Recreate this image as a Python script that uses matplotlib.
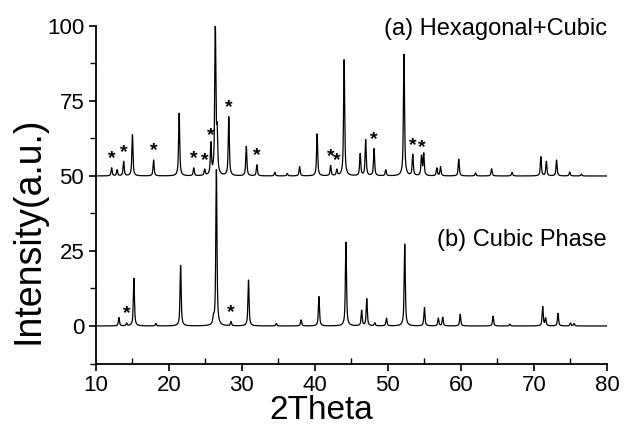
import numpy as np
import matplotlib
matplotlib.use("Agg")
import matplotlib.pyplot as plt
from matplotlib.ticker import MultipleLocator

plt.rcParams['font.family'] = ['Liberation Sans', 'DejaVu Sans']

# (a) Hexagonal+Cubic: peak positions (2theta) and heights (above baseline 50)
a_pos = [12.15, 12.9, 13.8, 15.0, 17.9, 21.4, 23.4, 24.9, 25.75, 26.35, 26.6, 28.2,
         30.6, 32.05, 34.5, 36.2, 37.9, 40.3, 42.15, 43.0, 44.0, 46.2, 46.95, 48.1,
         49.7, 52.2, 53.4, 54.6, 54.9, 56.7, 57.2, 59.7, 62.0, 64.2, 67.0, 70.95,
         71.7, 73.1, 74.9, 76.5]
a_h = [2.7, 2.0, 4.8, 13.7, 5.3, 20.9, 2.6, 2.0, 10.3, 50.0, 13.0, 19.6,
       9.8, 3.7, 1.2, 0.8, 3.1, 14.0, 3.4, 2.0, 38.7, 7.3, 12.0, 9.0,
       2.0, 40.5, 7.0, 6.4, 7.2, 2.6, 3.0, 5.6, 1.0, 2.4, 1.2, 6.4,
       4.8, 5.3, 1.3, 0.6]
a_base = 50
a_stars = [12.15, 13.8, 17.9, 23.4, 24.9, 25.75, 28.2, 32.05, 42.15, 43.0, 48.1, 53.4, 54.6]

# (b) Cubic Phase: peak positions and heights (above baseline 0)
b_pos = [13.15, 14.2, 15.2, 18.2, 21.6, 26.1, 26.5, 28.5, 30.9, 34.7, 38.1, 40.55,
         44.25, 46.4, 47.1, 48.2, 49.8, 52.3, 55.0, 56.9, 57.5, 59.9, 64.4, 66.7,
         71.2, 71.6, 73.3, 75.0, 75.5]
b_h = [2.8, 0.9, 15.9, 0.8, 20.2, 2.0, 52.0, 1.4, 15.3, 0.8, 2.0, 9.8,
       27.9, 5.1, 9.0, 1.0, 2.6, 27.3, 6.1, 2.6, 2.9, 3.9, 3.3, 0.6,
       6.4, 2.5, 4.2, 1.0, 0.8]
b_base = 0
b_stars = [14.2, 28.5]

x = np.linspace(10, 80, 7001)


def profile(pos, h, base):
    y = np.full_like(x, float(base))
    w = 0.12
    for p, hh in zip(pos, h):
        y += hh * (0.5 / (1 + ((x - p) / w) ** 2) + 0.5 * np.exp(-((x - p) / (0.8 * w)) ** 2))
    return y


def star_h(pos, h, s):
    return max(hh for p, hh in zip(pos, h) if abs(p - s) < 0.05)


fig = plt.figure(figsize=(6.27, 4.28), dpi=100)
ax = fig.add_axes([0.153, 0.1507, 0.815, 0.7886])

ya = profile(a_pos, a_h, a_base)
yb = profile(b_pos, b_h, b_base)
ax.plot(x, ya, color='black', lw=0.9)
ax.plot(x, yb, color='black', lw=0.9)

for s in a_stars:
    ax.text(s, a_base + star_h(a_pos, a_h, s) + 0.3, '*', ha='center', va='bottom',
            fontsize=14, fontweight='bold')
for s in b_stars:
    ax.text(s, b_base + star_h(b_pos, b_h, s) + 0.3, '*', ha='center', va='bottom',
            fontsize=14, fontweight='bold')

ax.text(80, 99, '(a) Hexagonal+Cubic', ha='right', va='center', fontsize=17)
ax.text(80, 28.5, '(b) Cubic Phase', ha='right', va='center', fontsize=17)

ax.set_xlim(10, 80)
ax.set_ylim(-12.5, 100)
ax.xaxis.set_major_locator(MultipleLocator(10))
ax.xaxis.set_minor_locator(MultipleLocator(5))
ax.yaxis.set_major_locator(MultipleLocator(25))
ax.yaxis.set_minor_locator(MultipleLocator(12.5))
ax.tick_params(axis='both', which='major', direction='out', length=5, width=1.2, labelsize=16)
ax.tick_params(axis='x', which='minor', direction='in', length=4, width=1.0)
ax.tick_params(axis='y', which='minor', direction='out', length=4, width=1.0)
for sp in ['top', 'right']:
    ax.spines[sp].set_visible(False)
for sp in ['left', 'bottom']:
    ax.spines[sp].set_linewidth(1.3)

ax.set_xlabel('2Theta', fontsize=24)
ax.set_ylabel('Intensity(a.u.)', fontsize=27)
ax.xaxis.set_label_coords(0.44, -0.093)
ax.xaxis.label.set_va('top')
ax.yaxis.set_label_coords(-0.097, 0.394)

fig.savefig('out.png', dpi=100)
